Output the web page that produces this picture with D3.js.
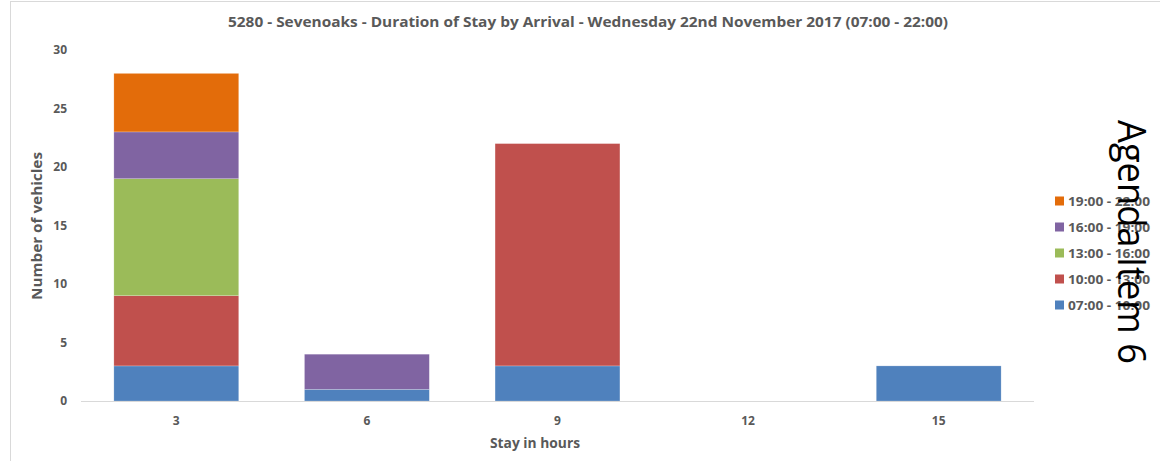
<!DOCTYPE html>
<html>
<head>
<meta charset="utf-8">
<script src="https://cdn.jsdelivr.net/npm/d3@7"></script>
<style>
  html, body { margin: 0; padding: 0; background: #fff; }
  svg { display: block; }
  text { font-family: "Open Sans", "Liberation Sans", sans-serif; }
</style>
</head>
<body>
<svg id="chart" width="1160" height="461"></svg>
<script>
// Stay durations (hours) on the x axis
const stays = ["3", "6", "9", "12", "15"];
// Arrival windows, bottom of the stack first
const arrivals = ["07:00 - 10:00", "10:00 - 13:00", "13:00 - 16:00", "16:00 - 19:00", "19:00 - 22:00"];
const arrivalColors = ["#4F81BD", "#C0504D", "#9BBB59", "#8064A2", "#E36C0A"];
// Vehicles per arrival window, one value per stay
const arr0700 = [3, 1, 3, 0, 3];
const arr1000 = [6, 0, 19, 0, 0];
const arr1300 = [10, 0, 0, 0, 0];
const arr1600 = [4, 3, 0, 0, 0];
const arr1900 = [5, 0, 0, 0, 0];
const yTicks = [0, 5, 10, 15, 20, 25, 30];

const seriesValues = [arr0700, arr1000, arr1300, arr1600, arr1900];
const rows = stays.map((s, i) => {
  const r = { stay: s };
  arrivals.forEach((a, k) => { r[a] = seriesValues[k][i]; });
  return r;
});

const svg = d3.select("#chart");
const grey = "#595959";

// chart frame
svg.append("rect")
  .attr("x", 10.5).attr("y", 1.5)
  .attr("width", 1200).attr("height", 500)
  .attr("fill", "none").attr("stroke", "#D9D9D9").attr("stroke-width", 1);

const plotLeft = 81, plotRight = 1034, plotTop = 50, plotBottom = 401;

const x = d3.scaleBand().domain(stays).range([plotLeft, plotRight]).paddingInner(0.345).paddingOuter(0.1725);
const y = d3.scaleLinear().domain([0, 30]).range([plotBottom, plotTop]);

const stack = d3.stack().keys(arrivals)(rows);

// bars
const g = svg.append("g");
stack.forEach((layer, k) => {
  g.append("g").attr("fill", arrivalColors[k])
    .selectAll("rect")
    .data(layer.filter(d => d[1] - d[0] > 0))
    .join("rect")
    .attr("x", d => x(d.data.stay))
    .attr("width", x.bandwidth())
    .attr("y", d => y(d[1]))
    .attr("height", d => y(d[0]) - y(d[1]))
    .attr("stroke", "#ffffff")
    .attr("stroke-opacity", 0.35)
    .attr("stroke-width", 0.6);
});

// x axis
const xAxis = svg.append("g")
  .attr("transform", `translate(0,${plotBottom})`)
  .call(d3.axisBottom(x).tickSize(0).tickPadding(15));
xAxis.select(".domain").attr("stroke", "#D9D9D9").attr("stroke-width", 1.2)
  .attr("d", `M${plotLeft},0.5H${plotRight}`);
xAxis.selectAll("text")
  .attr("fill", grey).attr("font-size", 12).attr("font-weight", "bold")
  .attr("font-family", "'Open Sans', sans-serif");

// y axis (labels only)
const yAxis = svg.append("g")
  .attr("transform", `translate(67,0)`)
  .call(d3.axisLeft(y).tickValues(yTicks).tickSize(0).tickPadding(0));
yAxis.select(".domain").remove();
yAxis.selectAll("text")
  .attr("fill", grey).attr("font-size", 12).attr("font-weight", "bold")
  .attr("font-family", "'Open Sans', sans-serif");

// title
svg.append("text")
  .attr("x", 588).attr("y", 27)
  .attr("text-anchor", "middle")
  .attr("fill", grey).attr("font-size", 15).attr("font-weight", "bold")
  .attr("textLength", 720).attr("lengthAdjust", "spacingAndGlyphs")
  .text("5280 - Sevenoaks - Duration of Stay by Arrival - Wednesday 22nd November 2017 (07:00 - 22:00)");

// axis titles
svg.append("text")
  .attr("x", 535).attr("y", 448)
  .attr("text-anchor", "middle")
  .attr("fill", grey).attr("font-size", 14).attr("font-weight", "bold")
  .attr("textLength", 90).attr("lengthAdjust", "spacingAndGlyphs")
  .text("Stay in hours");

svg.append("text")
  .attr("transform", "translate(42,226) rotate(-90)")
  .attr("text-anchor", "middle")
  .attr("fill", grey).attr("font-size", 14).attr("font-weight", "bold")
  .attr("textLength", 148).attr("lengthAdjust", "spacingAndGlyphs")
  .text("Number of vehicles");

// legend, top entry is the last series
const legendRows = [4, 3, 2, 1, 0];
const legend = svg.append("g");
legendRows.forEach((k, i) => {
  const ly = 201 + i * 26;
  legend.append("rect")
    .attr("x", 1055).attr("y", ly - 4.5)
    .attr("width", 9).attr("height", 9)
    .attr("fill", arrivalColors[k]);
  legend.append("text")
    .attr("x", 1068).attr("y", ly + 4.5)
    .attr("fill", grey).attr("font-size", 12).attr("font-weight", "bold")
    .attr("textLength", 82).attr("lengthAdjust", "spacingAndGlyphs")
    .text(arrivals[k]);
});

// agenda stamp, rotated down the right edge
svg.append("text")
  .attr("transform", "translate(1118,120) rotate(90)")
  .attr("fill", "#000")
  .attr("font-family", "'Liberation Sans', Arial, sans-serif")
  .attr("font-size", 38)
  .attr("textLength", 244).attr("lengthAdjust", "spacingAndGlyphs")
  .text("Agenda Item 6");
</script>
</body>
</html>
